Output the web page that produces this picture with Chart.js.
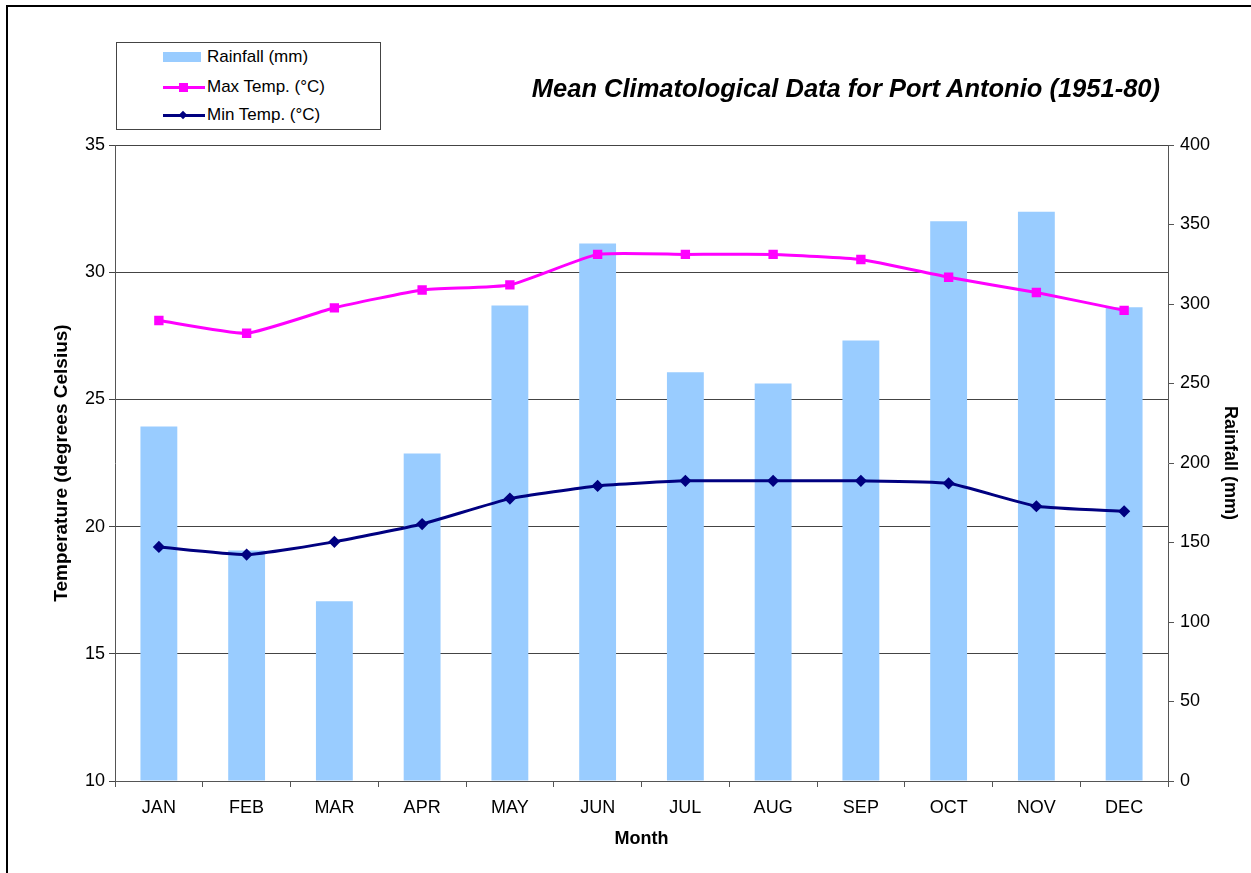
<!DOCTYPE html>
<html>
<head>
<meta charset="utf-8">
<script src="https://cdn.jsdelivr.net/npm/chart.js@4.4.1/dist/chart.umd.min.js"></script>
<style>
  html, body { margin: 0; padding: 0; background: #fff; }
  #wrap { position: relative; width: 1251px; height: 873px; overflow: hidden; font-family: Arial, "Liberation Sans", sans-serif; }
  #frameTop { position: absolute; left: 6px; top: 5px; width: 1245px; height: 2px; background: #000; }
  #frameLeft { position: absolute; left: 6px; top: 5px; width: 2px; height: 868px; background: #000; }
  #legend { position: absolute; left: 116px; top: 42px; width: 263px; height: 86px; border: 1px solid #444; background: #fff; }
  .item { position: absolute; left: 46px; height: 22px; font-size: 17px; color: #000; }
  .item span { position: absolute; left: 44px; top: 0px; white-space: nowrap; line-height: 22px; }
  .swatch { position: absolute; left: 0; top: 6px; width: 38px; height: 10px; background: #99ccff; }
  .ln { position: absolute; left: 0; top: 10px; width: 42px; height: 3px; }
  .mk { position: absolute; }
  #title { position: absolute; left: 460px; top: 74px; width: 700px; text-align: right; font-size: 25.5px; font-weight: bold; font-style: italic; color: #000; white-space: nowrap; }
  canvas { position: absolute; left: 0; top: 0; }
</style>
</head>
<body>
<div id="wrap">
  <canvas id="climateChart" width="1251" height="873"></canvas>
  <div id="frameTop"></div>
  <div id="frameLeft"></div>
  <div id="legend">
    <div class="item" style="top:3px"><div class="swatch"></div><span>Rainfall (mm)</span></div>
    <div class="item" style="top:33px"><div class="ln" style="background:#ff00ff"></div><div class="mk" style="left:16px;top:7px;width:9px;height:9px;background:#ff00ff"></div><span>Max Temp. (°C)</span></div>
    <div class="item" style="top:61px"><div class="ln" style="background:#000080"></div><div class="mk" style="left:17px;top:8px;width:6px;height:6px;background:#000080;transform:rotate(45deg)"></div><span>Min Temp. (°C)</span></div>
  </div>
  <div id="title">Mean Climatological Data for Port Antonio (1951-80)</div>
</div>
<script>
// data
const months = ['JAN', 'FEB', 'MAR', 'APR', 'MAY', 'JUN', 'JUL', 'AUG', 'SEP', 'OCT', 'NOV', 'DEC'];
const rainfall = [223, 145, 113, 206, 299, 338, 257, 250, 277, 352, 358, 298];
const maxTemp = [28.1, 27.6, 28.6, 29.3, 29.5, 30.7, 30.7, 30.7, 30.5, 29.8, 29.2, 28.5];
const minTemp = [19.2, 18.9, 19.4, 20.1, 21.1, 21.6, 21.8, 21.8, 21.8, 21.7, 20.8, 20.6];

const fam = 'Arial, "Liberation Sans", sans-serif';
const tickFont = { family: fam, size: 18 };

const ctx = document.getElementById('climateChart').getContext('2d');

new Chart(ctx, {
    type: 'bar',
    data: {
        labels: months,
        datasets: [
            {
                type: 'line',
                label: 'Max Temp. (°C)',
                data: maxTemp,
                yAxisID: 'yTemp',
                borderColor: '#ff00ff',
                backgroundColor: '#ff00ff',
                borderWidth: 3,
                pointStyle: 'rect',
                pointRadius: 4.5,
                tension: 0.15,
                order: 1,
            },
            {
                type: 'line',
                label: 'Min Temp. (°C)',
                data: minTemp,
                yAxisID: 'yTemp',
                borderColor: '#000080',
                backgroundColor: '#000080',
                borderWidth: 3,
                pointStyle: 'rectRot',
                pointRadius: 4,
                tension: 0.15,
                order: 2,
            },
            {
                label: 'Rainfall (mm)',
                data: rainfall,
                yAxisID: 'yRain',
                backgroundColor: '#99ccff',
                borderWidth: 0,
                barPercentage: 0.42,
                categoryPercentage: 1,
                order: 3,
            },
        ],
    },
    options: {
        responsive: false,
        animation: false,
        layout: { padding: { top: 145, left: 46, right: 6, bottom: 22 } },
        plugins: {
            legend: { display: false },
            tooltip: { enabled: false },
        },
        scales: {
            x: {
                offset: true,
                grid: { offset: true, drawOnChartArea: false, color: '#555', tickLength: 6 },
                border: { color: '#555', width: 1 },
                ticks: { color: '#000', font: tickFont, padding: 10, maxRotation: 0 },
                title: { display: true, text: 'Month', color: '#000', font: { family: fam, size: 18, weight: 'bold' }, padding: { top: 4, bottom: 1 } },
                afterFit: (axis) => { axis.height = 70; },
            },
            yTemp: {
                position: 'left',
                min: 10,
                max: 35,
                ticks: { stepSize: 5, color: '#000', font: tickFont, padding: 4 },
                grid: { color: '#444', tickLength: 6 },
                border: { color: '#555', width: 1 },
                title: { display: true, text: 'Temperature (degrees Celsius)', color: '#000', font: { family: fam, size: 19, weight: 'bold' } },
                afterFit: (axis) => { axis.width = 69; },
            },
            yRain: {
                position: 'right',
                min: 0,
                max: 400,
                ticks: { stepSize: 50, color: '#000', font: tickFont, padding: 6 },
                grid: { drawOnChartArea: false, color: '#555', tickLength: 6 },
                border: { color: '#555', width: 1 },
                title: { display: true, text: 'Rainfall (mm)', color: '#000', font: { family: fam, size: 18, weight: 'bold' } },
                afterFit: (axis) => { axis.width = 77; },
            },
        },
    },
});
</script>
</body>
</html>
